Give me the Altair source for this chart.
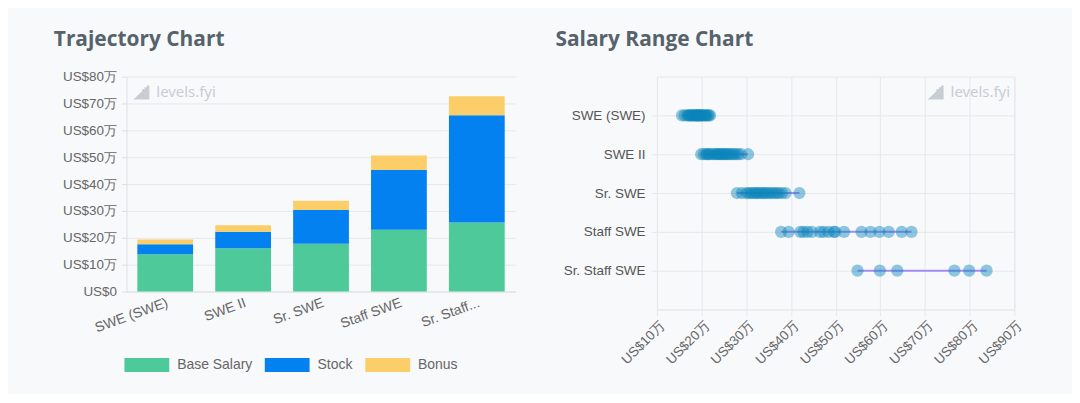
import altair as alt
import pandas as pd

# ---------------- data ----------------
levels = ["SWE (SWE)", "SWE II", "Sr. SWE", "Staff SWE", "Sr. Staff SWE"]
components = ["Base Salary", "Stock", "Bonus"]
comp_colors = ["#4dc99a", "#0481f0", "#fbce69"]
base = [13.9, 16.1, 17.8, 23.0, 25.7]     # in 万 USD
stock = [3.7, 6.2, 12.6, 22.2, 39.9]
bonus = [1.8, 2.4, 3.4, 5.4, 7.1]

range_swe = [15.6, 16.2, 16.8, 17.1, 17.3, 17.5, 17.8, 18.0, 18.3, 18.5, 18.8, 18.9,
             19.0, 19.2, 19.5, 19.6, 19.8, 20.0, 20.2, 20.5, 20.8, 21.0, 21.3, 21.6, 21.9]
range_swe2 = [19.9, 20.5, 21.0, 21.3, 21.6, 22.0, 22.5, 23.0, 23.3, 23.6, 24.0, 24.3,
              24.6, 25.0, 25.3, 25.6, 26.0, 26.4, 26.8, 27.2, 27.7, 28.2, 28.8, 30.4]
range_sr = [27.9, 29.0, 30.0, 30.5, 31.0, 31.5, 32.0, 32.4, 32.8, 33.3, 33.8, 34.2,
            34.7, 35.2, 35.7, 36.3, 36.8, 37.3, 38.0, 38.8, 41.9]
range_staff = [37.8, 39.5, 42.1, 42.8, 43.7, 44.7, 46.5, 47.3, 48.4, 49.6, 49.9,
               51.9, 55.8, 57.8, 59.8, 61.9, 64.8, 67.0]
range_srstaff = [54.9, 59.9, 63.8, 76.6, 79.9, 83.8]
ranges = [range_swe, range_swe2, range_sr, range_staff, range_srstaff]

# ---------------- tables ----------------
rows = []
for i, lv in enumerate(levels):
    for j, (c, v) in enumerate(zip(components, [base[i], stock[i], bonus[i]])):
        rows.append({"level": lv, "component": c, "value": v, "order": j})
bar_df = pd.DataFrame(rows)

pts = []
spans = []
for lv, vals in zip(levels, ranges):
    for v in vals:
        pts.append({"level": lv, "value": v})
    spans.append({"level": lv, "min": min(vals), "max": max(vals)})
pts_df = pd.DataFrame(pts)
span_df = pd.DataFrame(spans)

GRID = "#e6e8eb"
DOMAIN = "#dcdfe3"
LABEL = "#666666"
FONT = "Liberation Sans"
TITLE_FONT = "Open Sans"
TITLE_COLOR = "#56626c"
WM = "#c8cdd3"
ICON = "M-1,0.875L0.1,-0.15L0.1,-0.4L0.4,-0.4L0.4,-0.65L0.7,-0.65L0.7,-0.875L1,-0.875L1,0.875Z"


def watermark(x_icon, x_text):
    icon = alt.Chart(pd.DataFrame({"t": ["icon"]})).mark_point(
        shape=ICON, size=256, filled=True, color=WM, opacity=1, strokeWidth=0
    ).encode(x=alt.value(x_icon), y=alt.value(16))
    text = alt.Chart(pd.DataFrame({"t": ["levels.fyi"]})).mark_text(
        fontSize=15, color=WM, align="left", baseline="middle", font="Noto Sans"
    ).encode(text="t:N", x=alt.value(x_text), y=alt.value(16))
    return icon, text


# ---------------- left: trajectory ----------------
bars = alt.Chart(bar_df).mark_bar().encode(
    x=alt.X("level:N", sort=levels, title=None,
            scale=alt.Scale(paddingInner=0.284, paddingOuter=0.14),
            axis=alt.Axis(labelAngle=-20, labelFontSize=14, labelColor=LABEL, labelFont=FONT,
                          ticks=False, domainColor=DOMAIN, grid=False, labelPadding=4,
                          labelExpr="length(datum.label) > 10 ? slice(datum.label, 0, 9) + '...' : datum.label")),
    y=alt.Y("value:Q", stack="zero", title=None,
            scale=alt.Scale(domain=[0, 80], nice=False),
            axis=alt.Axis(values=list(range(0, 81, 10)), labelFontSize=13.5, labelColor=LABEL,
                          labelFont=FONT, tickColor=DOMAIN, tickSize=5, domainColor=DOMAIN,
                          gridColor=GRID, labelPadding=5,
                          labelExpr="datum.value == 0 ? 'US$0' : 'US$' + datum.value + '万'")),
    color=alt.Color("component:N",
                    scale=alt.Scale(domain=components, range=comp_colors),
                    legend=alt.Legend(title=None, orient="none", legendX=-2, legendY=267,
                                      direction="horizontal",
                                      symbolType="M-1,-0.311L1,-0.311L1,0.311L-1,0.311Z",
                                      symbolSize=2025, symbolStrokeWidth=0, symbolOpacity=1,
                                      labelFontSize=14, labelColor=LABEL, labelFont=FONT,
                                      labelOffset=8, columnPadding=12)),
    order=alt.Order("order:Q"),
)

wi_l, wt_l = watermark(15, 30)
left = alt.layer(bars, wi_l, wt_l).properties(
    width=391, height=216,
    view=alt.ViewBackground(stroke="transparent"),
    title=alt.TitleParams("Trajectory Chart", anchor="start", frame="group", dx=-73,
                          fontSize=21, font=TITLE_FONT, fontWeight="bold",
                          color=TITLE_COLOR, offset=20),
)

# ---------------- right: salary range ----------------
yenc = alt.Y("level:N", sort=levels, title=None,
             scale=alt.Scale(type="point", padding=1),
             axis=alt.Axis(labelFontSize=13.5, labelColor="#555555", labelFont=FONT,
                           tickColor=GRID, tickSize=6, domainColor=GRID, gridColor=GRID,
                           grid=True, labelPadding=6))
xscale = alt.Scale(domain=[10, 90], nice=False)
xaxis = alt.Axis(values=list(range(10, 91, 10)), labelAngle=-45, labelFontSize=13.5,
                 labelColor=LABEL, labelFont=FONT, tickColor=GRID, tickSize=6,
                 domainColor=GRID, gridColor=GRID, labelPadding=3, labelOverlap=False,
                 labelExpr="'US$' + datum.value + '万'")

rule = alt.Chart(span_df).mark_rule(color="#a58cf3", strokeWidth=2).encode(
    x=alt.X("min:Q", scale=xscale, axis=xaxis, title=None),
    x2="max:Q",
    y=yenc,
)
dots = alt.Chart(pts_df).mark_circle(size=150, color="#0a84ba", opacity=0.45).encode(
    x=alt.X("value:Q", scale=xscale, axis=xaxis, title=None),
    y=yenc,
)
wi_r, wt_r = watermark(280, 295)

right = alt.layer(rule, dots, wi_r, wt_r).properties(
    width=359, height=234,
    view=alt.ViewBackground(stroke=GRID),
    title=alt.TitleParams("Salary Range Chart", anchor="start", frame="group", dx=-102,
                          fontSize=21, font=TITLE_FONT, fontWeight="bold",
                          color=TITLE_COLOR, offset=27),
)

chart = alt.hconcat(left, right, spacing=142, bounds="flush").properties(
    padding={"left": 45, "top": 19, "right": 47, "bottom": 21},
    background="#f8f9fb",
).configure_view(strokeWidth=1)

chart.save("out.html", embed_options={"renderer": "svg", "actions": False})
